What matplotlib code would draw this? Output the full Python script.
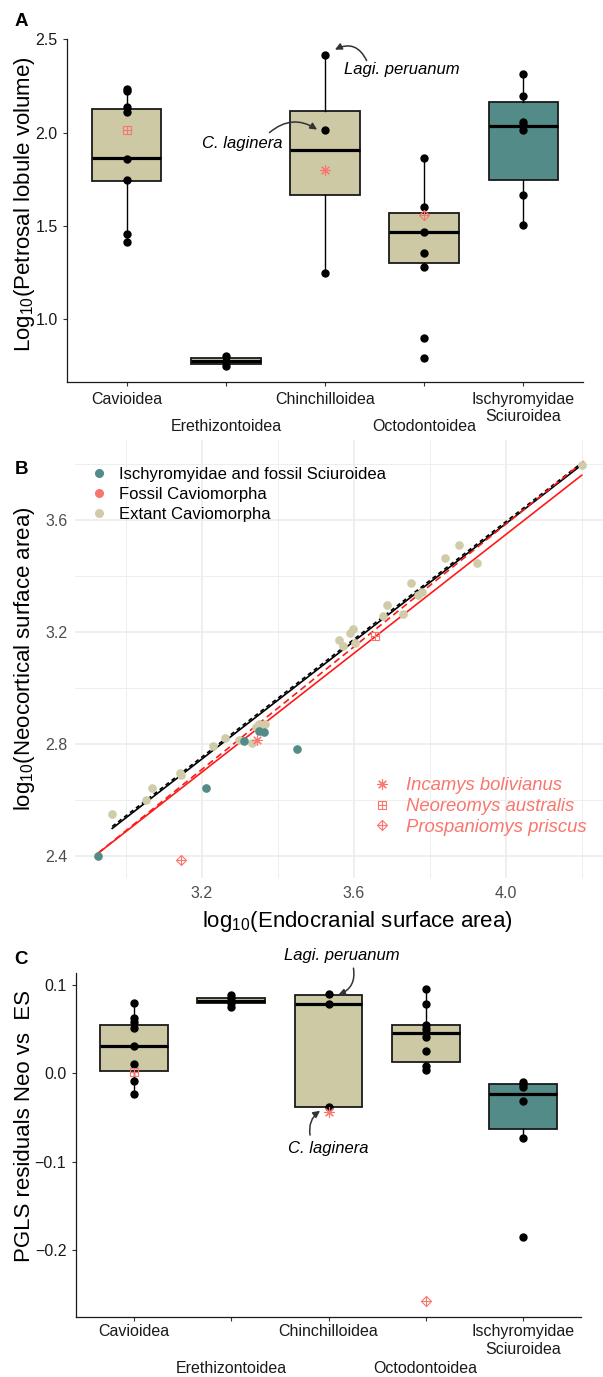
import matplotlib
matplotlib.use("Agg")
import matplotlib.pyplot as plt
from matplotlib.lines import Line2D
from matplotlib.ticker import FixedLocator
import numpy as np

plt.rcParams['font.family'] = ['Liberation Sans', 'DejaVu Sans']
plt.rcParams['mathtext.fontset'] = 'custom'
plt.rcParams['mathtext.rm'] = 'Liberation Sans'
plt.rcParams['mathtext.it'] = 'Liberation Sans:italic'

# ---------------- data ----------------
groups = ["Cavioidea", "Erethizontoidea", "Chinchilloidea", "Octodontoidea",
          "Ischyromyidae\nSciuroidea"]
box_colors = ["#CDC9A5", "#CDC9A5", "#CDC9A5", "#CDC9A5", "#528B87"]

# Panel A: log10 petrosal lobule volume (extant species points)
a_cav = [2.234, 2.225, 2.136, 2.112, 1.859, 1.743, 1.457, 1.411]
a_ere = [0.802, 0.775, 0.748]
a_chi = [2.418, 2.012, 1.247]
a_oct = [1.864, 1.602, 1.465, 1.355, 1.280, 0.896, 0.793]
a_isc = [2.314, 2.198, 2.059, 2.040, 2.016, 1.663, 1.506]
a_q1 = [1.741, 0.757, 1.665, 1.300, 1.748]
a_med = [1.862, 0.775, 1.907, 1.465, 2.034]
a_q3 = [2.127, 0.789, 2.114, 1.566, 2.164]
a_lo = [1.411, 0.748, 1.247, 1.280, 1.506]
a_hi = [2.234, 0.802, 2.418, 1.864, 2.314]

# Panel C: PGLS residuals Neo vs ES
c_cav = [0.0799, 0.0622, 0.0584, 0.0509, 0.0309, 0.0105, -0.0087, -0.0238]
c_ere = [0.0886, 0.0848, 0.0799, 0.0747]
c_chi = [0.0893, 0.0780, -0.0378]
c_oct = [0.0950, 0.0780, 0.0546, 0.0500, 0.0460, 0.0414, 0.0256, 0.0083, 0.0037]
c_isc = [-0.0095, -0.0121, -0.0158, -0.0313, -0.0735, -0.1848]
c_q1 = [0.0026, 0.0792, -0.0385, 0.0131, -0.0626]
c_med = [0.0309, 0.0821, 0.0784, 0.0452, -0.0230]
c_q3 = [0.0546, 0.0855, 0.0882, 0.0546, -0.0125]
c_lo = [-0.0238, 0.0747, -0.0385, 0.0037, -0.0735]
c_hi = [0.0799, 0.0886, 0.0882, 0.0950, -0.0095]

# Fossil taxa
fossil_names = ["Incamys bolivianus", "Neoreomys australis", "Prospaniomys priscus"]
fossil_group = [2, 0, 3]
a_fossil = [1.800, 2.014, 1.557]
c_fossil = [-0.0434, 0.0018, -0.2572]
b_fossil_x = [3.345, 3.656, 3.144]
b_fossil_y = [2.813, 3.186, 2.384]

# Panel B scatter
b_isc_x = [2.927, 3.211, 3.312, 3.351, 3.363, 3.451]
b_isc_y = [2.401, 2.641, 2.809, 2.847, 2.843, 2.782]
b_ext_x = [2.964, 3.054, 3.068, 3.142, 3.145, 3.229, 3.261, 3.297, 3.332, 3.342,
           3.351, 3.367, 3.560, 3.571, 3.589, 3.599, 3.602, 3.677, 3.688, 3.729,
           3.751, 3.769, 3.780, 3.841, 3.876, 3.923, 4.202]
b_ext_y = [2.549, 2.601, 2.641, 2.698, 2.688, 2.794, 2.821, 2.813, 2.804, 2.861,
           2.873, 2.870, 3.171, 3.151, 3.195, 3.210, 3.159, 3.258, 3.296, 3.264,
           3.376, 3.332, 3.344, 3.463, 3.510, 3.445, 3.797]
b_legend = ["Ischyromyidae and fossil Sciuroidea", "Fossil Caviomorpha", "Extant Caviomorpha"]

# Panel B regression lines
line_x0 = [2.964, 2.964, 2.927, 2.927]
line_x1 = [4.200, 4.200, 4.200, 4.210]
line_a = [-0.617, -0.610, -0.696, -0.795]
line_b = [1.051, 1.051, 1.061, 1.095]
line_col = ["black", "black", "#FF1A1A", "#FF1A1A"]
line_ls = ["-", (0, (2.5, 2.0)), "-", (0, (4, 2.5))]

RED = "#F8766D"
TEAL = "#528B87"
BEIGE = "#D0CBA8"

W, H = 603, 1377
fig = plt.figure(figsize=(W / 100, H / 100), dpi=100)


def rect(l, t, r, b):
    return [l / W, 1 - b / H, (r - l) / W, (b - t) / H]


def fossil_marker(ax, x, y, idx, scale=1.0, zorder=5):
    if idx == 0:
        ax.plot(x, y, ls='', marker=(8, 2, 0), ms=7.5 * scale, mec=RED, mew=0.8, zorder=zorder)
    elif idx == 1:
        ax.plot(x, y, ls='', marker='s', ms=5.2 * scale, mfc='none', mec=RED, mew=0.8, zorder=zorder)
        ax.plot(x, y, ls='', marker='+', ms=5.2 * scale, mec=RED, mew=0.8, zorder=zorder)
    else:
        ax.plot(x, y, ls='', marker='D', ms=5.4 * scale, mfc='none', mec=RED, mew=0.8, zorder=zorder)
        ax.plot(x, y, ls='', marker='+', ms=7.6 * scale, mec=RED, mew=0.8, zorder=zorder)


def box_panel(ax, pts, q1, med, q3, lo, hi, fossil_vals, ylim, yticks, row1_pad, row2_pad, lsp):
    stats = []
    for i in range(len(groups)):
        stats.append(dict(q1=q1[i], med=med[i], q3=q3[i], whislo=lo[i], whishi=hi[i], fliers=[]))
    bp = ax.bxp(stats, positions=range(len(groups)), widths=0.7, patch_artist=True,
                showcaps=False, showfliers=False,
                boxprops=dict(edgecolor="#1a1a1a", linewidth=1.3),
                medianprops=dict(color="black", linewidth=2.3),
                whiskerprops=dict(color="black", linewidth=1.0))
    for patch, c in zip(bp['boxes'], box_colors):
        patch.set_facecolor(c)
    for i, v in enumerate(pts):
        ax.plot(np.full(len(v), i), v, 'o', color='black', ms=5, zorder=4)
    for k in range(3):
        fossil_marker(ax, fossil_group[k], fossil_vals[k], k)
    ax.set_xlim(-0.6, 4.6)
    ax.set_ylim(*ylim)
    ax.set_yticks(yticks)
    ax.set_xticks(range(len(groups)))
    ax.set_xticklabels(groups, fontsize=11.5, color="#1a1a1a", linespacing=lsp)
    ax.tick_params(axis='y', labelsize=11.5, labelcolor="#1a1a1a", length=3, width=0.8,
                   color="#333333", pad=4)
    ax.tick_params(axis='x', length=3, width=0.8, color="#333333")
    for s in ['top', 'right']:
        ax.spines[s].set_visible(False)
    for s in ['left', 'bottom']:
        ax.spines[s].set_linewidth(0.9)
        ax.spines[s].set_color("#1a1a1a")
    for i, t in enumerate(ax.xaxis.get_major_ticks()):
        t.set_pad(row2_pad if i in (1, 3) else row1_pad)


arrow_kw = dict(arrowstyle="-|>", color="#333333", lw=1.1, mutation_scale=10, shrinkA=0, shrinkB=0)

# ---------------- Panel A ----------------
axA = fig.add_axes(rect(67.3, 39, 582.7, 382))
box_panel(axA, [a_cav, a_ere, a_chi, a_oct, a_isc], a_q1, a_med, a_q3, a_lo, a_hi,
          a_fossil, (0.662, 2.502), [1.0, 1.5, 2.0, 2.5], 4.0, 24.0, 1.2)
axA.set_yticklabels(["1.0", "1.5", "2.0", "2.5"])
axA.set_ylabel(r"Log$_{10}$(Petrosal lobule volume)", fontsize=16, va='center')
axA.yaxis.set_label_coords(-0.083, 0.52)
axA.text(2.77, 2.336, "Lagi. peruanum", style='italic', fontsize=12, ha='center', va='center')
axA.annotate("", xy=(2.10, 2.445), xytext=(2.42, 2.386),
             arrowprops=dict(connectionstyle="arc3,rad=0.5", **arrow_kw))
axA.text(1.163, 1.94, "C. laginera", style='italic', fontsize=12, ha='center', va='center')
axA.annotate("", xy=(1.92, 2.016), xytext=(1.44, 2.0),
             arrowprops=dict(connectionstyle="arc3,rad=-0.37", **arrow_kw))

# ---------------- Panel B ----------------
axB = fig.add_axes(rect(75, 440, 603, 878.3))
axB.set_xlim(2.866, 4.256)
axB.set_ylim(2.32, 3.886)
axB.xaxis.set_major_locator(FixedLocator([3.2, 3.6, 4.0]))
axB.xaxis.set_minor_locator(FixedLocator([3.0, 3.4, 3.8, 4.2]))
axB.yaxis.set_major_locator(FixedLocator([2.4, 2.8, 3.2, 3.6]))
axB.yaxis.set_minor_locator(FixedLocator([2.6, 3.0, 3.4, 3.8]))
axB.grid(True, which='major', color="#EBEBEB", lw=1.1)
axB.grid(True, which='minor', color="#EEEEEE", lw=0.7)
axB.set_axisbelow(True)
for s in axB.spines.values():
    s.set_visible(False)
axB.tick_params(which='both', length=0, labelsize=11.5, labelcolor="#4D4D4D", pad=5.5)
for x0, x1, a, b, c, ls in zip(line_x0, line_x1, line_a, line_b, line_col, line_ls):
    xs = np.array([x0, x1])
    axB.plot(xs, a + b * xs, color=c, ls=ls, lw=1.2, zorder=2)
axB.plot(b_ext_x, b_ext_y, 'o', color=BEIGE, ms=5.2, zorder=3)
axB.plot(b_isc_x, b_isc_y, 'o', color=TEAL, ms=5.2, zorder=3)
for k in range(3):
    fossil_marker(axB, b_fossil_x[k], b_fossil_y[k], k)
axB.set_xlabel(r"log$_{10}$(Endocranial surface area)", fontsize=16, va='center')
axB.xaxis.set_label_coords(0.534, -0.099)
axB.set_ylabel(r"log$_{10}$(Neocortical surface area)", fontsize=16, va='center')
axB.yaxis.set_label_coords(-0.095, 0.5)

h1 = [Line2D([], [], ls='', marker='o', color=c, ms=5.5) for c in [TEAL, RED, BEIGE]]
leg1 = axB.legend(h1, b_legend, loc='upper left', bbox_to_anchor=(0.0297, 0.938),
                  frameon=False, fontsize=12, handlelength=1.0, handletextpad=0.7,
                  borderpad=0, borderaxespad=0, labelspacing=0.3)
axB.add_artist(leg1)
h2 = [Line2D([], [], ls='', marker=(8, 2, 0), ms=7.5, mec=RED, mew=0.8),
      (Line2D([], [], ls='', marker='s', ms=5.2, mfc='none', mec=RED, mew=0.8),
       Line2D([], [], ls='', marker='+', ms=5.2, mec=RED, mew=0.8)),
      (Line2D([], [], ls='', marker='D', ms=5.4, mfc='none', mec=RED, mew=0.8),
       Line2D([], [], ls='', marker='+', ms=7.6, mec=RED, mew=0.8))]
leg2 = axB.legend(h2, fossil_names, loc='upper left', bbox_to_anchor=(0.564, 0.23),
                  frameon=False, fontsize=13.3, handlelength=1.0, handletextpad=0.8,
                  borderpad=0, borderaxespad=0, labelspacing=0.2)
for t in leg2.get_texts():
    t.set_color(RED)
    t.set_style('italic')

# ---------------- Panel C ----------------
axC = fig.add_axes(rect(76, 973.3, 581, 1316.7))
box_panel(axC, [c_cav, c_ere, c_chi, c_oct, c_isc], c_q1, c_med, c_q3, c_lo, c_hi,
          c_fossil, (-0.275, 0.113), [-0.2, -0.1, 0.0, 0.1], 2.0, 29.0, 1.25)
axC.set_ylabel("PGLS residuals Neo vs  ES", fontsize=16, va='center')
axC.yaxis.set_label_coords(-0.102, 0.555)
axC.text(2.136, 0.1327, "Lagi. peruanum", style='italic', fontsize=12, ha='center',
         va='center', clip_on=False)
axC.annotate("", xy=(2.10, 0.0886), xytext=(2.257, 0.1188),
             arrowprops=dict(connectionstyle="arc3,rad=-0.4", **arrow_kw), annotation_clip=False)
axC.text(2.0, -0.0848, "C. laginera", style='italic', fontsize=12, ha='center', va='center')
axC.annotate("", xy=(1.913, -0.0423), xytext=(1.81, -0.0698),
             arrowprops=dict(connectionstyle="arc3,rad=-0.3", **arrow_kw))

# panel letters
for lab, (px, py) in zip("ABC", [(21, 22), (21, 470), (21, 960)]):
    fig.text(px / W, 1 - py / H, lab, fontsize=13.5, fontweight='bold', ha='center', va='center')

fig.savefig("out.png", dpi=100)
